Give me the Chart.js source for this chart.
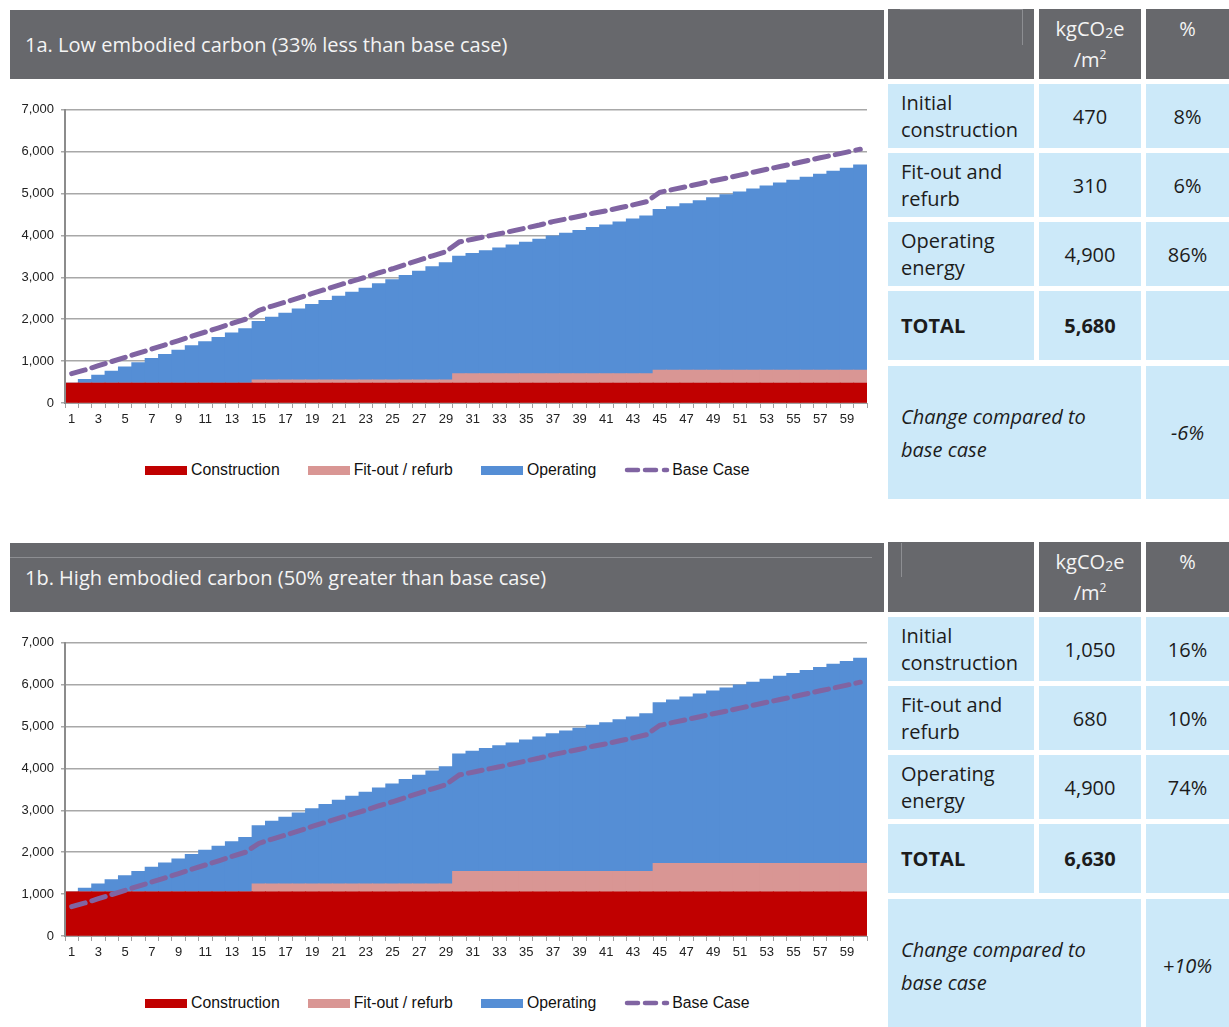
<!DOCTYPE html>
<html>
<head>
<meta charset="utf-8">
<title>Embodied carbon scenarios</title>
<script src="https://cdn.jsdelivr.net/npm/chart.js"></script>
<style>
  body { margin: 0; background: #fff; width: 1229px; height: 1027px; position: relative; overflow: hidden; font-family: "Open Sans", sans-serif; }
  .abs { position: absolute; box-sizing: border-box; }
  .bar { background: #67686c; color: #f4f4f4; font-size: 20px; padding-left: 15px; display: flex; align-items: center; }
  .hd { background: #67686c; color: #f4f4f4; font-size: 20px; text-align: center; }
  .cell { background: #cce9f9; color: #1c1c1c; font-size: 20px; display: flex; align-items: center; }
  .lbl { padding-left: 13px; line-height: 27px; }
  .num { justify-content: center; }
  .rule { background: #8d8e92; }
  .legend { display: flex; align-items: center; font-family: "Liberation Sans", Arial, sans-serif; font-size: 15.8px; color: #111; }
  .legend span.sw { display: inline-block; width: 42px; height: 9px; margin-right: 4px; }
  .legend .item { display: flex; align-items: center; margin-right: 28px; }
  canvas { position: absolute; }
</style>
</head>
<body>
<script>
// years on the category axis
const years = [1, 2, 3, 4, 5, 6, 7, 8, 9, 10, 11, 12, 13, 14, 15, 16, 17, 18, 19, 20,
  21, 22, 23, 24, 25, 26, 27, 28, 29, 30, 31, 32, 33, 34, 35, 36, 37, 38, 39, 40,
  41, 42, 43, 44, 45, 46, 47, 48, 49, 50, 51, 52, 53, 54, 55, 56, 57, 58, 59, 60];

// cumulative kgCO2e/m2 per year
const constructionLow = [470, 470, 470, 470, 470, 470, 470, 470, 470, 470, 470, 470, 470, 470, 470, 470, 470, 470, 470, 470,
  470, 470, 470, 470, 470, 470, 470, 470, 470, 470, 470, 470, 470, 470, 470, 470, 470, 470, 470, 470,
  470, 470, 470, 470, 470, 470, 470, 470, 470, 470, 470, 470, 470, 470, 470, 470, 470, 470, 470, 470];
const fitoutLow = [0, 0, 0, 0, 0, 0, 0, 0, 0, 0, 0, 0, 0, 0, 80, 80, 80, 80, 80, 80,
  80, 80, 80, 80, 80, 80, 80, 80, 80, 230, 230, 230, 230, 230, 230, 230, 230, 230, 230, 230,
  230, 230, 230, 230, 310, 310, 310, 310, 310, 310, 310, 310, 310, 310, 310, 310, 310, 310, 310, 310];

const constructionHigh = [1050, 1050, 1050, 1050, 1050, 1050, 1050, 1050, 1050, 1050, 1050, 1050, 1050, 1050, 1050, 1050, 1050, 1050, 1050, 1050,
  1050, 1050, 1050, 1050, 1050, 1050, 1050, 1050, 1050, 1050, 1050, 1050, 1050, 1050, 1050, 1050, 1050, 1050, 1050, 1050,
  1050, 1050, 1050, 1050, 1050, 1050, 1050, 1050, 1050, 1050, 1050, 1050, 1050, 1050, 1050, 1050, 1050, 1050, 1050, 1050];
const fitoutHigh = [0, 0, 0, 0, 0, 0, 0, 0, 0, 0, 0, 0, 0, 0, 190, 190, 190, 190, 190, 190,
  190, 190, 190, 190, 190, 190, 190, 190, 190, 490, 490, 490, 490, 490, 490, 490, 490, 490, 490, 490,
  490, 490, 490, 490, 680, 680, 680, 680, 680, 680, 680, 680, 680, 680, 680, 680, 680, 680, 680, 680];

// operating energy is the same in both scenarios
const operating = [0, 90, 190, 290, 390, 490, 590, 690, 790, 895, 995, 1095, 1200, 1300, 1395, 1500, 1595, 1695, 1800, 1900,
  2000, 2095, 2190, 2295, 2390, 2495, 2595, 2700, 2800, 2805, 2870, 2935, 3000, 3070, 3140, 3210, 3290, 3355, 3420, 3490,
  3550, 3620, 3690, 3765, 3840, 3905, 3975, 4050, 4120, 4190, 4260, 4330, 4400, 4470, 4540, 4610, 4680, 4755, 4825, 4900];

const baseCase = [700, 790, 890, 990, 1090, 1190, 1290, 1390, 1490, 1595, 1695, 1795, 1900, 2000, 2210, 2315, 2410, 2510, 2615, 2715,
  2815, 2910, 3005, 3110, 3205, 3310, 3410, 3515, 3615, 3845, 3910, 3975, 4040, 4110, 4180, 4250, 4330, 4395, 4460, 4530,
  4590, 4660, 4730, 4805, 5030, 5100, 5165, 5235, 5305, 5370, 5440, 5510, 5580, 5645, 5715, 5785, 5855, 5920, 5990, 6060];

// summary tables
const rowNames = ['Initial<br>construction', 'Fit-out and<br>refurb', 'Operating<br>energy'];
const tableLow = ['470', '310', '4,900'];
const pctLow = ['8%', '6%', '86%'];
const totalLow = '5,680';
const changeLow = '-6%';
const tableHigh = ['1,050', '680', '4,900'];
const pctHigh = ['16%', '10%', '74%'];
const totalHigh = '6,630';
const changeHigh = '+10%';

const seriesNames = ['Construction', 'Fit-out / refurb', 'Operating', 'Base Case'];
const colors = ['#c00000', '#d99694', '#558ed5', '#8064a2'];

function el(cls, x, y, w, h, html) {
  const d = document.createElement('div');
  d.className = 'abs ' + cls;
  d.style.left = x + 'px'; d.style.top = y + 'px';
  d.style.width = w + 'px'; d.style.height = h + 'px';
  d.innerHTML = html || '';
  document.body.appendChild(d);
  return d;
}

// redraw the value axis line over the first bar
const axisLine = {
  id: 'axisLine',
  afterDatasetsDraw(chart) {
    const { ctx, chartArea } = chart;
    ctx.save();
    ctx.strokeStyle = '#8c8c8c';
    ctx.lineWidth = 2;
    ctx.beginPath();
    ctx.moveTo(chartArea.left, chartArea.top);
    ctx.lineTo(chartArea.left, chartArea.bottom + 1);
    ctx.stroke();
    ctx.restore();
  }
};

function panel(dy, title, construction, fitout, values, pcts, total, change) {
  el('bar', 10, 10 + dy, 874, 69, title);

  // table
  el('hd', 888, 9 + dy, 146, 70);
  el('hd', 1039, 9 + dy, 102, 70, '<div style="position:absolute;top:7px;width:100%;line-height:26px">kgCO<span style="font-size:14px;position:relative;top:2px">2</span>e</div>' +
    '<div style="position:absolute;top:38px;width:100%;line-height:26px">/m<span style="font-size:12px;position:relative;top:-8px">2</span></div>');
  el('hd', 1146, 9 + dy, 83, 70, '<div style="position:absolute;top:7px;width:100%;line-height:26px">%</div>');
  const rowsY = [84, 153, 222];
  for (let i = 0; i < 3; i++) {
    el('cell lbl', 888, rowsY[i] + dy, 146, 64, rowNames[i]);
    el('cell num', 1039, rowsY[i] + dy, 102, 64, values[i]);
    el('cell num', 1146, rowsY[i] + dy, 83, 64, pcts[i]);
  }
  el('cell lbl', 888, 291 + dy, 146, 69, '<b>TOTAL</b>');
  el('cell num', 1039, 291 + dy, 102, 69, '<b>' + total + '</b>');
  el('cell num', 1146, 291 + dy, 83, 69, '');
  el('cell lbl', 888, 366 + dy, 253, 133, '<i style="line-height:33px">Change compared to<br>base case</i>');
  el('cell num', 1146, 366 + dy, 83, 133, '<i>' + change + '</i>');

  const cv = document.createElement('canvas');
  cv.width = 880; cv.height = 335;
  cv.style.left = '0px'; cv.style.top = (95 + dy) + 'px';
  document.body.appendChild(cv);

  const tickFont = { family: 'Liberation Sans', size: 13 };
  new Chart(cv, {
    type: 'bar',
    data: {
      labels: years,
      datasets: [
        { label: seriesNames[0], data: construction, backgroundColor: colors[0], order: 2 },
        { label: seriesNames[1], data: fitout, backgroundColor: colors[1], order: 2 },
        { label: seriesNames[2], data: operating, backgroundColor: colors[2], order: 2 },
        { type: 'line', label: seriesNames[3], data: baseCase, stack: 'base', borderColor: colors[3],
          borderWidth: 5, borderDash: [14, 7], borderCapStyle: 'round', pointRadius: 0, fill: false, order: 0 }
      ]
    },
    options: {
      responsive: false,
      animation: false,
      layout: { padding: { top: 5, right: 13, left: 0, bottom: 0 } },
      datasets: { bar: { categoryPercentage: 1, barPercentage: 1, inflateAmount: 0.5 } },
      plugins: { legend: { display: false }, tooltip: { enabled: false } },
      scales: {
        x: {
          stacked: true,
          grid: { offset: true, drawOnChartArea: false, tickLength: 5, color: '#a0a0a0' },
          border: { color: '#a0a0a0' },
          ticks: {
            autoSkip: false, maxRotation: 0, padding: 4, color: '#222', font: tickFont,
            callback(v, i) { return i % 2 === 0 ? this.getLabelForValue(v) : ''; }
          },
          afterFit(s) { s.height = 27; }
        },
        y: {
          stacked: true, min: 0, max: 7000,
          grid: { color: '#a8a8a8', lineWidth: 1.5, tickLength: 4 },
          border: { color: '#8c8c8c', width: 2 },
          ticks: { stepSize: 1000, padding: 7, color: '#222', font: tickFont,
            callback: v => v.toLocaleString('en-US') },
          afterFit(s) { s.width = 65; }
        }
      }
    },
    plugins: [axisLine]
  });

  // legend
  const lg = el('legend', 145, 459 + dy, 720, 22);
  for (let i = 0; i < 3; i++) {
    lg.innerHTML += '<div class="item"><span class="sw" style="background:' + colors[i] + '"></span>' + seriesNames[i] + '</div>';
  }
  lg.innerHTML += '<div class="item"><svg width="47" height="10" style="margin-right:1px"><g stroke="' + colors[3] +
    '" stroke-width="4.5" stroke-linecap="round"><line x1="3" y1="5" x2="14" y2="5"/><line x1="21" y1="5" x2="32" y2="5"/>' +
    '<line x1="40" y1="5" x2="43" y2="5"/></g></svg>' + seriesNames[3] + '</div>';
}

panel(0, '1a. Low embodied carbon (33% less than base case)', constructionLow, fitoutLow, tableLow, pctLow, totalLow, changeLow);
panel(533, '1b. High embodied carbon (50% greater than base case)', constructionHigh, fitoutHigh, tableHigh, pctHigh, totalHigh, changeHigh);

// faint seams inside the header blocks
el('rule', 900, 9, 122, 1);
el('rule', 1022, 9, 1, 36);
el('rule', 10, 557, 862, 1);
el('rule', 901, 543, 1, 34);
</script>
</body>
</html>
